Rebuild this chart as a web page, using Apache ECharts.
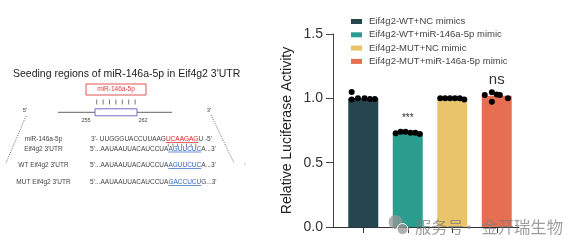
<!DOCTYPE html>
<html>
<head>
<meta charset="utf-8">
<script src="https://cdn.jsdelivr.net/npm/echarts@6/dist/echarts.min.js"></script>
<style>html,body{margin:0;padding:0;background:#fff;}#c{width:583px;height:249px;}</style>
</head>
<body>
<div id="c"></div>
<script>
// ---- data ----
const categories = ['Eif4g2-WT+NC mimics', 'Eif4g2-WT+miR-146a-5p mimic', 'Eif4g2-MUT+NC mimic', 'Eif4g2-MUT+miR-146a-5p mimic'];
const barMeans = [1.00, 0.735, 1.00, 1.02];
const replicates = [
  [1.05, 0.99, 1.00, 1.00, 0.995, 0.995],
  [0.728, 0.741, 0.741, 0.733, 0.733, 0.722],
  [1.00, 1.00, 1.00, 1.00, 1.00, 0.99],
  [1.026, 1.047, 0.974, 1.026, 1.00, 1.03]
];
const sigLabels = ['', '***', '', 'ns'];
const yTicks = [0, 0.5, 1.0, 1.5];
const colors = ['#25454f', '#2a9d8f', '#e9c46a', '#e76f51'];
// horizontal jitter of dots within a bar (fraction of category spacing)
const dotOffsets = [
  [-0.26, -0.26, -0.12, 0.03, 0.15, 0.26],
  [-0.27, -0.16, -0.05, 0.06, 0.17, 0.27],
  [-0.27, -0.16, -0.05, 0.06, 0.17, 0.27],
  [-0.27, -0.11, -0.11, 0.07, 0.25, 0.0]
];

const FONT = '"Liberation Sans", Arial, Helvetica, sans-serif';

// ---- diagram text ----
const diagTitle = "Seeding regions of miR-146a-5p in Eif4g2 3'UTR";
const rowLabels = ['miR-146a-5p', "Eif4g2 3'UTR", "WT Eif4g2 3'UTR", "MUT Eif4g2 3'UTR"];
const rowSeqs = [
  ["3'- UUGGGUACCUUAAG", 'UCAAGAG', "U -5'", 'r'],
  ['5\u2019...AAUAAUUACAUCCUA', 'AGUUCUC', "A...3'", 'b'],
  ['5\u2019...AAUAAUUACAUCCUA', 'AGUUCUC', "A...3'", 'b'],
  ['5\u2019...AAUAAUUACAUCCUA', 'GACCUCU', "G...3'", 'b']
];

const seqFontSize = 6.5;
const cv = document.createElement('canvas').getContext('2d');
cv.font = seqFontSize + 'px ' + FONT;
const mw = s => cv.measureText(s).width;

const graphics = [];
// title
graphics.push({type:'text', x:13, y:74, style:{text:diagTitle, font:'10.5px ' + FONT, fill:'#222', verticalAlign:'middle'}});
// red box
graphics.push({type:'rect', shape:{x:86, y:84, width:60, height:11}, style:{fill:'#fff', stroke:'#e05555', lineWidth:1}});
graphics.push({type:'text', x:116, y:89.7, style:{text:'miR-146a-5p', font:'6.5px ' + FONT, fill:'#e03a3a', align:'center', verticalAlign:'middle'}});
for (let i = 0; i < 7; i++) {
  const x = 96.7 + i * 6.4;
  graphics.push({type:'line', shape:{x1:x, y1:99.5, x2:x, y2:104.5}, style:{stroke:'#555', lineWidth:0.8}});
}
graphics.push({type:'line', shape:{x1:58, y1:112.3, x2:172, y2:112.3}, style:{stroke:'#666', lineWidth:1}});
graphics.push({type:'rect', shape:{x:95, y:108.8, width:42, height:7}, style:{fill:'#fff', stroke:'#7070c8', lineWidth:1}});
graphics.push({type:'text', x:86, y:120.5, style:{text:'255', font:'5.5px ' + FONT, fill:'#444', align:'center', verticalAlign:'middle'}});
graphics.push({type:'text', x:143, y:120.5, style:{text:'262', font:'5.5px ' + FONT, fill:'#444', align:'center', verticalAlign:'middle'}});
graphics.push({type:'text', x:25, y:110, style:{text:"5'", font:'6px ' + FONT, fill:'#444', align:'center', verticalAlign:'middle'}});
graphics.push({type:'text', x:209, y:110, style:{text:"3'", font:'6px ' + FONT, fill:'#444', align:'center', verticalAlign:'middle'}});
graphics.push({type:'line', shape:{x1:26, y1:116, x2:6, y2:163}, style:{stroke:'#555', lineWidth:0.9, lineDash:[1,1.3]}});
graphics.push({type:'line', shape:{x1:211, y1:115, x2:234, y2:163}, style:{stroke:'#555', lineWidth:0.9, lineDash:[1,1.3]}});
graphics.push({type:'circle', shape:{cx:245, cy:164, r:0.6}, style:{fill:'#666'}});

const rowY = [139.5, 149, 165.5, 182.5];
const seqX = [91, 90, 90, 90];
rowLabels.forEach((lab, i) => {
  graphics.push({type:'text', x:43.5, y:rowY[i], style:{text:lab, font:seqFontSize + 'px ' + FONT, fill:'#444', align:'center', verticalAlign:'middle'}});
  const [pre, mid, post, kind] = rowSeqs[i];
  const col = kind === 'r' ? '#e02020' : '#2b62c0';
  graphics.push({type:'text', x:seqX[i], y:rowY[i], style:{
    text:'{n|' + pre + '}{h|' + mid + '}{n|' + post + '}',
    font:seqFontSize + 'px ' + FONT, verticalAlign:'middle',
    rich:{n:{fill:'#444', fontSize:seqFontSize, fontFamily:FONT}, h:{fill:col, fontSize:seqFontSize, fontFamily:FONT}}
  }});
  const ux0 = seqX[i] + mw(pre), ux1 = ux0 + mw(mid);
  graphics.push({type:'line', shape:{x1:ux0, y1:rowY[i] + 3, x2:ux1, y2:rowY[i] + 3}, style:{stroke:col, lineWidth:0.7}});
  if (i === 0) {
    for (let k = 0; k < mid.length; k++) {
      const cx = ux0 + mw(mid.slice(0, k)) + mw(mid[k]) / 2;
      graphics.push({type:'line', shape:{x1:cx, y1:143.6, x2:cx, y2:146.6}, style:{stroke:'#555', lineWidth:0.7}});
    }
  }
});

// watermark
graphics.push({type:'circle', shape:{cx:395.5, cy:222, r:7}, style:{fill:'rgba(150,150,150,0.75)'}, z:100});
graphics.push({type:'circle', shape:{cx:402.5, cy:229, r:5.5}, style:{fill:'rgba(150,150,150,0.75)', stroke:'#fff', lineWidth:1}, z:101});
graphics.push({type:'text', x:415, y:227, z:102, style:{text:'服务号', font:'16.3px "Noto Sans CJK SC"', fill:'rgba(125,125,125,0.75)', verticalAlign:'middle'}});
graphics.push({type:'text', x:469, y:227, z:102, style:{text:'·', font:'16.3px "Noto Sans CJK SC"', fill:'rgba(125,125,125,0.75)', align:'center', verticalAlign:'middle'}});
graphics.push({type:'text', x:481.5, y:227, z:102, style:{text:'金开瑞生物', font:'16.3px "Noto Sans CJK SC"', fill:'rgba(125,125,125,0.75)', verticalAlign:'middle'}});

// ---- series ----
const positions = categories.map((c, i) => i + 1);
const series = categories.map((name, i) => ({
  name: name,
  type: 'bar',
  barWidth: 30,
  barGap: '-100%',
  itemStyle: {color: colors[i]},
  label: {show: !!sigLabels[i], position: 'top', distance: i === 1 ? 9 : 8,
          formatter: () => sigLabels[i], color: '#333', fontFamily: FONT,
          fontSize: i === 1 ? 10 : 15},
  data: [[positions[i], barMeans[i]]],
  z: 2
}));
const dots = [];
replicates.forEach((vals, i) => vals.forEach((v, k) => dots.push([positions[i] + dotOffsets[i][k], v])));
series.push({type:'scatter', symbolSize:6, itemStyle:{color:'#000', opacity:1}, data:dots, z:5, silent:true});

const chart = echarts.init(document.getElementById('c'), null, {renderer:'canvas'});
chart.setOption({
  animation: false,
  backgroundColor: '#fff',
  textStyle: {fontFamily: FONT},
  grid: {left: 333, right: 64, top: 34, bottom: 22},
  legend: {
    orient: 'vertical', left: 346, top: 11.5, itemWidth: 11, itemHeight: 5, itemGap: 3.3,
    icon: 'rect', data: categories,
    textStyle: {fontSize: 9.5, color: '#444', fontFamily: FONT, padding:[0,0,0,2]}
  },
  xAxis: {
    type: 'value', min: 0.32, max: 4.5,
    splitLine: {show: false},
    axisLine: {show: true, onZero: false, lineStyle: {color: '#333', width: 1}},
    axisTick: {show: true, inside: false, length: 6, customValues: positions, lineStyle: {color: '#333'}},
    axisLabel: {show: false}
  },
  yAxis: {
    type: 'value', min: 0, max: 1.5, interval: 0.5,
    name: 'Relative Luciferase Activity', nameLocation: 'middle', nameGap: 39,
    nameTextStyle: {fontSize: 14, color: '#222', fontFamily: FONT},
    splitLine: {show: false},
    axisLine: {show: true, lineStyle: {color: '#444', width: 1}},
    axisTick: {show: true, length: 7, lineStyle: {color: '#444'}},
    axisLabel: {fontSize: 14, color: '#333', margin: 10, formatter: v => v.toFixed(1)}
  },
  graphic: graphics,
  series: series
});
</script>
</body>
</html>
